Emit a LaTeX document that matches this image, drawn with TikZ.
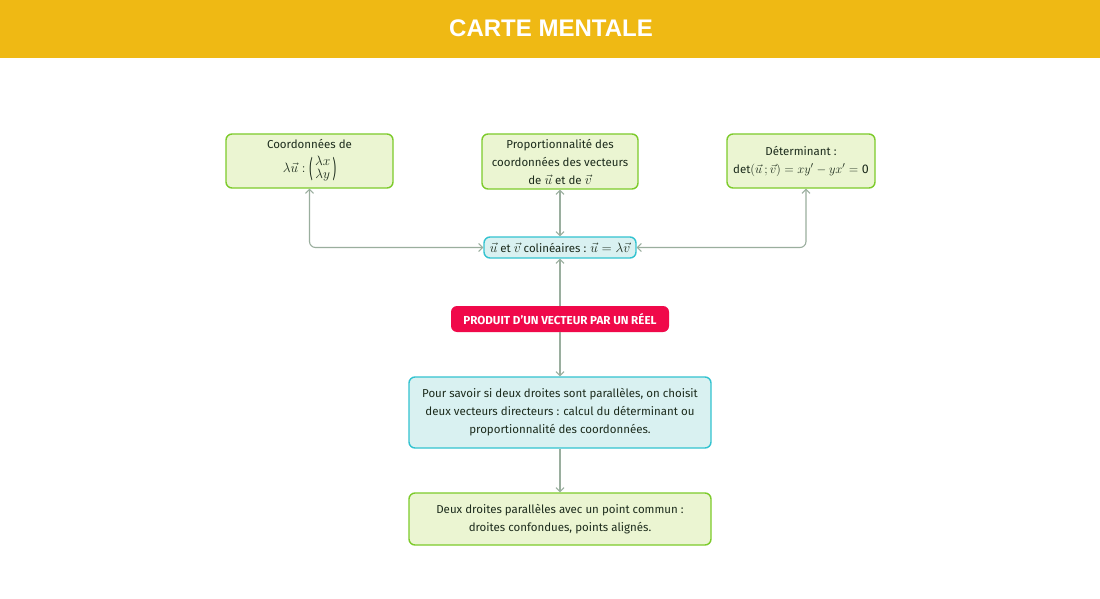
\documentclass[tikz,border=0pt]{standalone}
\usepackage{fix-cm}
\usepackage{amsmath}
\usepackage{graphicx}
\usepackage{fontspec}
\setmainfont{Fira Sans}
\newfontfamily\headfont{Liberation Sans}
\usetikzlibrary{arrows.meta}
\definecolor{headbg}{HTML}{EFB914}
\definecolor{gfill}{HTML}{EBF5D2}
\definecolor{gline}{HTML}{7DCB2B}
\definecolor{cfill}{HTML}{D9F1F1}
\definecolor{cline}{HTML}{33C3D0}
\definecolor{redbox}{HTML}{F0094A}
\definecolor{conn}{HTML}{9AAE9E}
\definecolor{txt}{HTML}{1C2B1C}
\newcommand{\mth}[1]{{\fontsize{13.5}{18}\selectfont$#1$}}
\newcommand{\mths}[1]{{\fontsize{12.5}{18}\selectfont$#1$}}
\newcommand{\tallpar}[1]{\vcenter{\hbox{\fontsize{12}{12}\selectfont\scalebox{0.9}[2.0]{#1}}}}
\tikzset{
  box/.style={rounded corners=6pt, line width=1.4pt, align=center, inner sep=2pt,
    text=txt, font=\fontsize{11.5}{18}\selectfont},
  gbox/.style={box, draw=gline, fill=gfill},
  cbox/.style={box, draw=cline, fill=cfill},
  rbox/.style={rounded corners=6pt, fill=redbox, text=white, align=center,
    font=\fontsize{11.6}{14}\selectfont\bfseries},
  link/.style={draw=conn, line width=1.1pt, rounded corners=6pt,
    arrows={Straight Barb[length=4pt,width=8pt,line width=1pt]-Straight Barb[length=4pt,width=8pt,line width=1pt]}},
  onelink/.style={draw=conn, line width=1.1pt,
    -{Straight Barb[length=4pt,width=8pt,line width=1pt]}},
}
\begin{document}
\begin{tikzpicture}[x=1pt,y=-1pt]
\useasboundingbox (0,0) rectangle (1100,599);
\fill[white] (0,0) rectangle (1100,599);
\fill[headbg] (0,0) rectangle (1100,58);
\node[text=white, font=\headfont\fontsize{24}{26}\selectfont\bfseries] (title) at (551,28) {CARTE MENTALE};

\node[gbox, minimum width=167pt, minimum height=54pt] (TL) at (309.5,161)
  {Coordonnées de\\[6pt] \mth{\lambda\vec{u}:\tallpar{(}\,\vcenter{\hbox{$\renewcommand{\arraystretch}{0.65}\begin{array}{@{}c@{}}\lambda x\\ \lambda y\end{array}$}}\,\tallpar{)}}};
\node[gbox, minimum width=156pt, minimum height=55pt] (TM) at (560,161.5)
  {Proportionnalité des\\coordonnées des vecteurs\\de \mth{\vec{u}} et de \mth{\vec{v}}};
\node[gbox, minimum width=148pt, minimum height=54pt] (TR) at (801,161)
  {Déterminant :\\det\mths{(\vec{u}\,;\vec{v})=xy'-yx'=\text{0}}};
\node[cbox, minimum width=152pt, minimum height=21pt] (C) at (560,247.5)
  {\mth{\vec{u}} et \mth{\vec{v}} colinéaires : \mth{\vec{u}=\lambda\vec{v}}};
\node[rbox, minimum width=218pt, minimum height=26pt] (R) at (560,319)
  {PRODUIT D’UN VECTEUR PAR UN RÉEL};
\node[cbox, minimum width=302pt, minimum height=71pt] (B) at (560,412.5)
  {Pour savoir si deux droites sont parallèles, on choisit\\deux vecteurs directeurs : calcul du déterminant ou\\proportionnalité des coordonnées.};
\node[gbox, minimum width=302pt, minimum height=52pt] (G) at (560,519)
  {Deux droites parallèles avec un point commun :\\droites confondues, points alignés.};

\draw[link] (TL.south) |- (C.west);
\draw[link] ([xshift=5pt]TR.south) |- (C.east);
\draw[link] (TM.south) -- (C.north);
\draw[onelink] (R.north) -- (C.south);
\draw[onelink] (R.south) -- (B.north);
\draw[onelink] (B.south) -- (G.north);
\end{tikzpicture}
\end{document}
